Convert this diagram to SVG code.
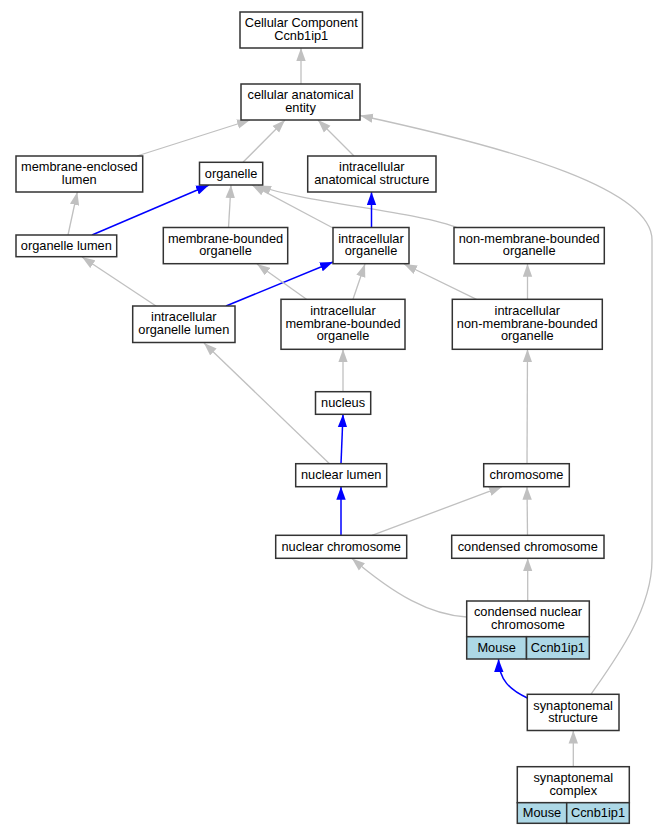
<svg xmlns="http://www.w3.org/2000/svg" width="657" height="835" viewBox="0 0 657 835">
<style>
  .box { fill: #ffffff; stroke: #333333; stroke-width: 1.5; }
  .cell { fill: #add8e6; stroke: #333333; stroke-width: 1.5; }
  .t { font-family: "Liberation Sans", Arial, sans-serif; font-size: 12.8px; text-anchor: middle; fill: #000000; }
  .g { fill: none; stroke: #c0c0c0; stroke-width: 1.3; marker-end: url(#ag); }
  .b { fill: none; stroke: #0000ff; stroke-width: 1.5; marker-end: url(#ab); }
</style>
<defs>
  <marker id="ag" markerUnits="userSpaceOnUse" viewBox="0 0 13 10" refX="13" refY="5" markerWidth="13" markerHeight="10" orient="auto">
    <path d="M0,0.3 L13,5 L0,9.7 z" fill="#c0c0c0"/>
  </marker>
  <marker id="ab" markerUnits="userSpaceOnUse" viewBox="0 0 13 10" refX="13" refY="5" markerWidth="13" markerHeight="10" orient="auto">
    <path d="M0,0.3 L13,5 L0,9.7 z" fill="#0000ff"/>
  </marker>
</defs>
<rect width="657" height="835" fill="#ffffff"/>

<g id="edges">
  <path class="g" d="M301,84 L301,48"/>
  <path class="g" d="M137,156 L250,120"/>
  <path class="g" d="M243,162.3 L285,120"/>
  <path class="g" d="M354,156 L318,120"/>
  <path class="g" d="M591,694.3 C615,660 652,610 652,560 L652,240 C652,190 520,150 360,115.5"/>
  <path class="g" d="M68,235 L77.3,192"/>
  <path class="b" d="M92,235 L209,185"/>
  <path class="g" d="M228.5,227.5 L231,185"/>
  <path class="g" d="M333,228 L252,185"/>
  <path class="g" d="M458,228 C420,212 300,202 258,185.5"/>
  <path class="b" d="M371.5,227.5 L371.5,192"/>
  <path class="g" d="M527.5,299.3 L527.5,263.7"/>
  <path class="g" d="M156,306 L82,257"/>
  <path class="b" d="M226,306 L333,262"/>
  <path class="g" d="M306.5,299.3 L257,264"/>
  <path class="g" d="M353,299.3 L365,264"/>
  <path class="g" d="M476.5,299.3 L404,264"/>
  <path class="g" d="M343,391.7 L343,349.3"/>
  <path class="g" d="M329.5,463.7 L204,343"/>
  <path class="b" d="M341,463.7 L343,414.3"/>
  <path class="g" d="M527,463.7 L527.5,349.3"/>
  <path class="b" d="M341,535.3 L341,486.7"/>
  <path class="g" d="M372,535.3 L502,486.7"/>
  <path class="g" d="M527.5,535.3 L527,486.7"/>
  <path class="g" d="M466.7,617 C430,615 395,595 352,558.5"/>
  <path class="g" d="M527.7,601 L527.7,558.3"/>
  <path class="b" d="M527.3,698 C510,690 499,680 498.5,659"/>
  <path class="g" d="M573.3,766.7 L573.3,730.5"/>
</g>

<g id="n_cellular_component">
  <rect class="box" x="240" y="12" width="122.5" height="36"/>
  <text class="t" x="301.2" y="27.2">Cellular Component</text>
  <text class="t" x="301.2" y="39.8">Ccnb1ip1</text>
</g>
<g id="n_cellular_anatomical_entity">
  <rect class="box" x="241" y="84" width="119" height="36"/>
  <text class="t" x="300.5" y="99.2">cellular anatomical</text>
  <text class="t" x="300.5" y="111.8">entity</text>
</g>
<g id="n_membrane_enclosed_lumen">
  <rect class="box" x="16" y="156" width="126.7" height="36"/>
  <text class="t" x="79.3" y="171.2">membrane-enclosed</text>
  <text class="t" x="79.3" y="183.8">lumen</text>
</g>
<g id="n_organelle">
  <rect class="box" x="199.5" y="162.3" width="63.2" height="22.7"/>
  <text class="t" x="231.1" y="177.8">organelle</text>
</g>
<g id="n_intracellular_anatomical_structure">
  <rect class="box" x="307.7" y="156" width="128.3" height="36"/>
  <text class="t" x="371.8" y="171.2">intracellular</text>
  <text class="t" x="371.8" y="183.8">anatomical structure</text>
</g>
<g id="n_organelle_lumen">
  <rect class="box" x="16" y="235" width="100.7" height="21.7"/>
  <text class="t" x="66.3" y="250">organelle lumen</text>
</g>
<g id="n_membrane_bounded_organelle">
  <rect class="box" x="163.3" y="227.5" width="124.4" height="36.2"/>
  <text class="t" x="225.5" y="242.8">membrane-bounded</text>
  <text class="t" x="225.5" y="255.4">organelle</text>
</g>
<g id="n_intracellular_organelle">
  <rect class="box" x="333" y="227.5" width="76" height="36.2"/>
  <text class="t" x="371" y="242.8">intracellular</text>
  <text class="t" x="371" y="255.4">organelle</text>
</g>
<g id="n_non_membrane_bounded_organelle">
  <rect class="box" x="454" y="227.5" width="150.3" height="36.2"/>
  <text class="t" x="529.2" y="242.8">non-membrane-bounded</text>
  <text class="t" x="529.2" y="255.4">organelle</text>
</g>
<g id="n_intracellular_organelle_lumen">
  <rect class="box" x="132.7" y="306" width="102.3" height="36.5"/>
  <text class="t" x="183.8" y="321.4">intracellular</text>
  <text class="t" x="183.8" y="334">organelle lumen</text>
</g>
<g id="n_intracellular_membrane_bounded_organelle">
  <rect class="box" x="281" y="299.3" width="124" height="50"/>
  <text class="t" x="343" y="315.1">intracellular</text>
  <text class="t" x="343" y="327.8">membrane-bounded</text>
  <text class="t" x="343" y="340.4">organelle</text>
</g>
<g id="n_intracellular_non_membrane_bounded_organelle">
  <rect class="box" x="452.3" y="299.3" width="150" height="50"/>
  <text class="t" x="527.3" y="315.1">intracellular</text>
  <text class="t" x="527.3" y="327.8">non-membrane-bounded</text>
  <text class="t" x="527.3" y="340.4">organelle</text>
</g>
<g id="n_nucleus">
  <rect class="box" x="315.5" y="391.7" width="55.2" height="22.6"/>
  <text class="t" x="343.1" y="406.9">nucleus</text>
</g>
<g id="n_nuclear_lumen">
  <rect class="box" x="295.7" y="463.7" width="91" height="23"/>
  <text class="t" x="341.2" y="479.2">nuclear lumen</text>
</g>
<g id="n_chromosome">
  <rect class="box" x="483.7" y="463.7" width="85.6" height="23"/>
  <text class="t" x="526.5" y="479.2">chromosome</text>
</g>
<g id="n_nuclear_chromosome">
  <rect class="box" x="275.7" y="535.3" width="131" height="23"/>
  <text class="t" x="341.2" y="550.8">nuclear chromosome</text>
</g>
<g id="n_condensed_chromosome">
  <rect class="box" x="451.7" y="535.3" width="152.3" height="23"/>
  <text class="t" x="527.8" y="550.8">condensed chromosome</text>
</g>
<g id="n_condensed_nuclear_chromosome">
  <rect class="box" x="466.7" y="601" width="122.6" height="35.7"/>
  <rect class="cell" x="466.7" y="636.7" width="59.8" height="22.3"/>
  <rect class="cell" x="526.5" y="636.7" width="62.8" height="22.3"/>
  <text class="t" x="528" y="616.1">condensed nuclear</text>
  <text class="t" x="528" y="628.7">chromosome</text>
  <text class="t" x="496.6" y="652">Mouse</text>
  <text class="t" x="557.9" y="652">Ccnb1ip1</text>
</g>
<g id="n_synaptonemal_structure">
  <rect class="box" x="527.3" y="694.3" width="91.7" height="36.2"/>
  <text class="t" x="573.1" y="709.6">synaptonemal</text>
  <text class="t" x="573.1" y="722.2">structure</text>
</g>
<g id="n_synaptonemal_complex">
  <rect class="box" x="517.3" y="766.7" width="112" height="36"/>
  <rect class="cell" x="517.3" y="802.7" width="49.4" height="20.6"/>
  <rect class="cell" x="566.7" y="802.7" width="62.6" height="20.6"/>
  <text class="t" x="573.3" y="781.9">synaptonemal</text>
  <text class="t" x="573.3" y="794.5">complex</text>
  <text class="t" x="542" y="817.3">Mouse</text>
  <text class="t" x="598" y="817.3">Ccnb1ip1</text>
</g>
</svg>
